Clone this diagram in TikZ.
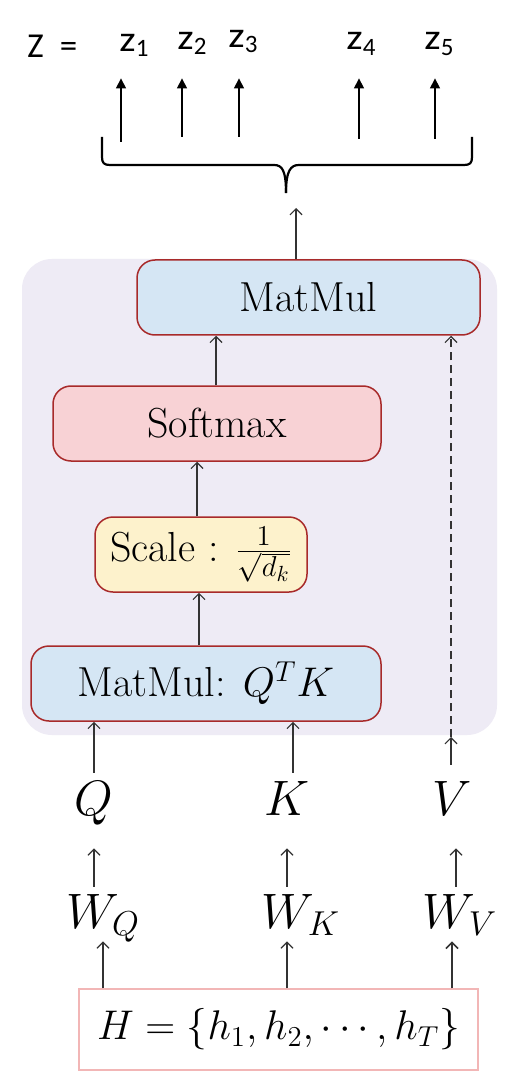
\documentclass[tikz,border=0pt]{standalone}
\usepackage{fontspec}
\newfontfamily\calib{Carlito}
\usetikzlibrary{arrows.meta,calc}
\definecolor{boxblue}{HTML}{D5E6F4}
\definecolor{boxpink}{HTML}{F8D2D5}
\definecolor{boxyellow}{HTML}{FDF2CC}
\definecolor{boxred}{HTML}{A82A2A}
\definecolor{panel}{HTML}{EEEBF5}
\definecolor{hpink}{HTML}{F2B6B6}
\newcommand{\zlab}[2]{\scalebox{1.15}[1]{\fontsize{18}{18}\selectfont z}\raisebox{-#2}{\fontsize{12.5}{12.5}\selectfont #1}}
\begin{document}
\begin{tikzpicture}[x=0.5pt,y=-0.5pt,
  blk/.style={draw=boxred,line width=0.75pt,rounded corners=9pt,minimum height=37.5pt,inner sep=0pt,font=\fontsize{21}{21}\selectfont},
  arr/.style={line width=0.6pt,draw=black!80,-{Straight Barb[length=3pt,width=6pt]}},
  zarr/.style={line width=0.6pt,-{Triangle[length=5pt,width=5pt]}},
  qkv/.style={anchor=base,inner sep=0pt,text height=21pt,text depth=16.5pt,font=\fontsize{24}{24}\selectfont},
  wn/.style={anchor=base,inner sep=0pt,text height=20.5pt,text depth=6.5pt,font=\fontsize{26}{26}\selectfont},
  zn/.style={anchor=base west,inner sep=0pt,font=\calib}]
\useasboundingbox (0,0) rectangle (512,1080);
\fill[white] (0,0) rectangle (512,1080);
% panel
\fill[panel,rounded corners=15pt] (22,259) rectangle (497,735);
% top output labels
\node[anchor=base west,inner sep=0pt,font=\calib\fontsize{17.5}{17.5}\selectfont] (Zlab) at (27,58) {Z\hspace{8pt}=};
\node[zn,text depth=13pt] (z1) at (119,52) {\zlab{1}{2.5pt}};
\node[zn,text depth=14pt] (z2) at (177,50) {\zlab{2}{2.5pt}};
\node[zn,text depth=15pt] (z3) at (228,48) {\zlab{3}{2.5pt}};
\node[zn,text depth=14pt] (z4) at (346,50) {\zlab{4}{3pt}};
\node[zn,text depth=14pt] (z5) at (424,50) {\zlab{5}{3pt}};
\coordinate (a1) at (121,142);
\coordinate (a2) at (182,137);
\coordinate (a3) at (239,137);
\coordinate (a4) at (359,139);
\coordinate (a5) at (435,139);
\draw[zarr] (a1) -- (a1 |- z1.south);
\draw[zarr] (a2) -- (a2 |- z2.south);
\draw[zarr] (a3) -- (a3 |- z3.south);
\draw[zarr] (a4) -- (a4 |- z4.south);
\draw[zarr] (a5) -- (a5 |- z5.south);
% brace
\draw[line width=1.1pt] (102,137) -- (102,157) .. controls (102,163) and (104,165) .. (110,165) -- (274,165) .. controls (282,165) and (286,170) .. (286,193);
\draw[line width=1.1pt] (286,193) .. controls (286,170) and (291,165) .. (299,165) -- (464,165) .. controls (470,165) and (472,163) .. (472,157) -- (472,137);
\coordinate (btip) at (296,208);
\coordinate (sx) at (216,0);
\coordinate (cx) at (199,0);
% blocks
\node[blk,fill=boxblue,minimum width=171.5pt] (MM) at (308.5,297.5) {MatMul\hspace{17pt}};
\node[blk,fill=boxpink,minimum width=164pt] (SM) at (217,423.5) {Softmax\hspace{16pt}};
\node[blk,fill=boxyellow,minimum width=106pt] (SC) at (201,554.5) {Scale : $\frac{1}{\sqrt{d_k}}$\hspace{5pt}};
\node[blk,fill=boxblue,minimum width=175pt] (QK) at (206,683.5) {MatMul: {\fontsize{19.5}{19.5}\selectfont$Q^TK$}\hspace{9pt}};
% inputs
\node[qkv] (Q) at (94,815) {$Q$};
\node[qkv] (K) at (287,815) {$K$};
\node[qkv] (V) at (452,815) {$V$};
\node[wn] (WQ) at (103,928) {$W_Q$};
\node[wn] (WK) at (301,928) {$W_K$};
\node[wn] (WV) at (460,928) {$W_V$};
\node[draw=hpink,line width=0.6pt,minimum width=199.5pt,minimum height=40.5pt,inner sep=0pt,font=\fontsize{21}{21}\selectfont] (H) at (278.5,1029.5) {$H=\{h_1,h_2,\cdots,h_T\}$};
% connectors
\draw[arr] (MM.north -| btip) -- (btip);
\draw[arr] (SM.north -| sx) -- (MM.south -| sx);
\draw[arr] ([xshift=-2pt]SC.north) -- ([xshift=-2pt]SC.north |- SM.south);
\draw[arr] (QK.north -| cx) -- (SC.south -| cx);
\draw[arr] (Q.north) -- (Q.north |- QK.south);
\draw[arr] ([xshift=3pt]K.north) -- ([xshift=3pt]K.north |- QK.south);
\coordinate (vtip) at (451,737);
\draw[arr] ([yshift=4pt]V.north -| vtip) -- (vtip);
\draw[arr,dash pattern=on 4pt off 2.5pt] (vtip) -- (vtip |- MM.south);
\draw[arr] (WQ.north -| Q.south) -- (Q.south);
\draw[arr] (WK.north -| K.south) -- (K.south);
\draw[arr] ([xshift=2pt]WV.north -| V.south) -- ([xshift=2pt]V.south);
\draw[arr] (H.north -| WQ.south) -- (WQ.south);
\draw[arr] (H.north -| K.south) -- (WK.south -| K.south);
\draw[arr,line width=0.8pt] (H.north -| V.south) -- (WV.south -| V.south);
\end{tikzpicture}
\end{document}
